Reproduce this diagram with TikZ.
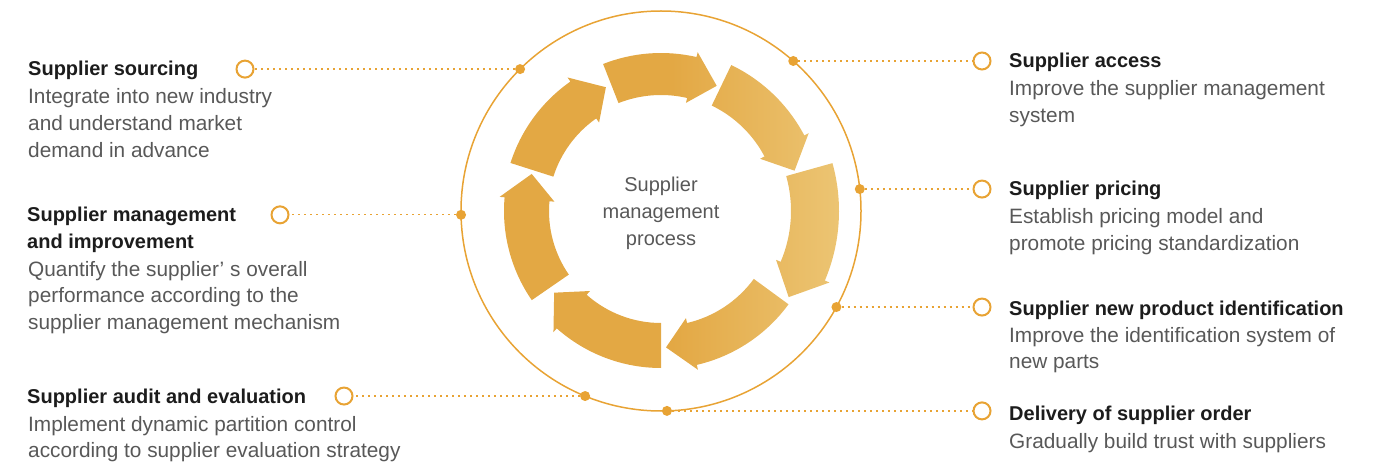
\documentclass[tikz,border=0pt]{standalone}
\usepackage{fontspec}
\setmainfont{Liberation Sans}

\definecolor{ringorange}{RGB}{232,163,52}
\definecolor{arrowdark}{RGB}{227,168,68}
\definecolor{arrowlight}{RGB}{236,197,116}
\definecolor{titlegray}{RGB}{28,28,28}
\definecolor{bodygray}{RGB}{88,88,88}

\tikzset{
  ring/.style={draw=ringorange, line width=1.5pt},
  dotmark/.style={circle, fill=ringorange, inner sep=0pt, minimum size=10pt},
  openmark/.style={circle, draw=ringorange, line width=2pt, fill=white, inner sep=0pt, minimum size=17pt},
  leader/.style={ringorange, line width=1.3pt, dash pattern=on 2pt off 4pt},
  titletext/.style={anchor=base west, inner sep=0pt, text=titlegray, align=left,
    font=\fontsize{20}{27}\selectfont\bfseries},
  bodytext/.style={anchor=base west, inner sep=0pt, text=bodygray, align=left,
    font=\fontsize{20.8}{26.7}\selectfont},
  centertext/.style={inner sep=0pt, text=bodygray, align=center,
    font=\fontsize{20}{27}\selectfont}
}

\begin{document}
\begin{tikzpicture}[x=1pt,y=1pt]
    \useasboundingbox (0,0) rectangle (1383,461);
    \coordinate (c) at (661,250);

    \begin{scope}[shift={(c)}]
        % ring of arrows, tail/tip angle and inner/outer radius
        \path[left color=arrowdark, right color=arrowlight, middle color=arrowdark]
          \foreach \a/\b/\ri/\ro in {111.5/66/116/158, 64.3/16.8/117/162, 15.6/-34/130/178,
              -36.2/-87.9/115/158, -90/-142.6/112/157, -145.4/-196/112/157, -197.7/-246/113/158}{
            (\a:\ri) -- (\a:\ro) arc[start angle=\a, end angle=\b+11, radius=\ro pt]
            -- ({\b+11}:{\ro+5}) -- (\b:{(\ri+\ro)/2}) -- ({\b+11}:{\ri-5})
            -- ({\b+11}:\ri) arc[start angle=\b+11, end angle=\a, radius=\ri pt] -- cycle
          };

        \draw[ring] (0,0) circle[radius=200pt];

        \node[dotmark] (d1) at (134.8:200) {};
        \node[dotmark] (d2) at (181.1:200) {};
        \node[dotmark] (d3) at (-112.3:200) {};
        \node[dotmark] (d4) at (48.6:200) {};
        \node[dotmark] (d5) at (6.3:200) {};
        \node[dotmark] (d6) at (-28.7:200) {};
        \node[dotmark] (d7) at (-88.3:200) {};
    \end{scope}

    \node[centertext] (mid) at (661,248) {Supplier\\management\\process};

    \node[openmark] (o1) at (245,0 |- d1) {};
    \node[openmark] (o2) at (280,0 |- d2) {};
    \node[openmark] (o3) at (344,0 |- d3) {};
    \node[openmark] (o4) at (982,0 |- d4) {};
    \node[openmark] (o5) at (982,0 |- d5) {};
    \node[openmark] (o6) at (982,0 |- d6) {};
    \node[openmark] (o7) at (982,0 |- d7) {};

    \draw[leader] (d1) -- (o1);
    \draw[leader] (d2) -- (o2);
    \draw[leader] (d3) -- (o3);
    \draw[leader] (d4) -- (o4);
    \draw[leader] (d5) -- (o5);
    \draw[leader] (d6) -- (o6);
    \draw[leader] (d7) -- (o7);

    % left column (base = last line)
    \node[titletext] (t1) at (28,385) {Supplier sourcing};
    \node[bodytext] (b1) at (28,303.6) {Integrate into new industry\\and understand market\\demand in advance};
    \node[titletext] (t2) at (27,212) {Supplier management\\and improvement};
    \node[bodytext] (b2) at (28,131.6) {Quantify the supplier' s overall\\performance according to the\\supplier management mechanism};
    \node[titletext] (t3) at (27,58) {Supplier audit and evaluation};
    \node[bodytext] (b3) at (28,3.3) {Implement dynamic partition control\\according to supplier evaluation strategy};

    % right column
    \node[titletext] (t4) at (1009,393) {Supplier access};
    \node[bodytext] (b4) at (1009,338.3) {Improve the supplier management\\system};
    \node[titletext] (t5) at (1009,265) {Supplier pricing};
    \node[bodytext] (b5) at (1009,210.3) {Establish pricing model and\\promote pricing standardization};
    \node[titletext] (t6) at (1009,146) {Supplier new product identification};
    \node[bodytext] (b6) at (1009,92.3) {Improve the identification system of\\new parts};
    \node[titletext] (t7) at (1009,41) {Delivery of supplier order};
    \node[bodytext] (b7) at (1009,13) {Gradually build trust with suppliers};
\end{tikzpicture}
\end{document}
